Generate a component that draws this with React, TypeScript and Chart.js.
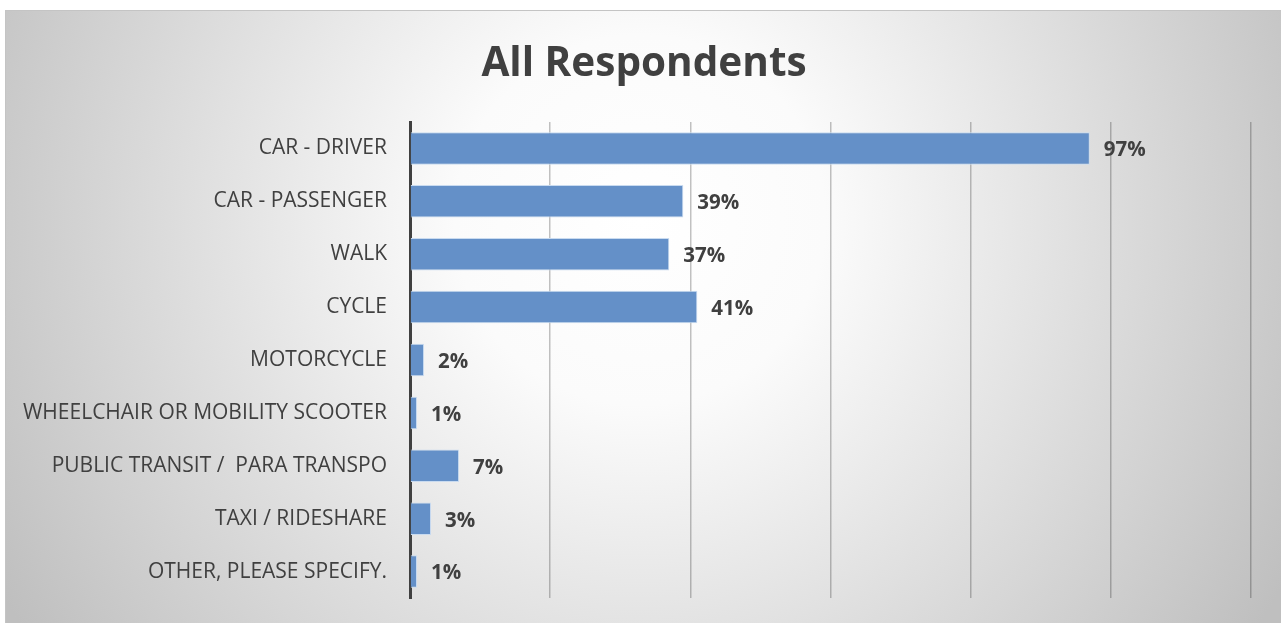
import React, { useEffect, useRef } from 'react';
import { Chart, registerables } from 'chart.js';

Chart.register(...registerables);

const categories = [
  'CAR - DRIVER',
  'CAR - PASSENGER',
  'WALK',
  'CYCLE',
  'MOTORCYCLE',
  'WHEELCHAIR OR MOBILITY SCOOTER',
  'PUBLIC TRANSIT /  PARA TRANSPO',
  'TAXI / RIDESHARE',
  'OTHER, PLEASE SPECIFY.',
];
const values = [97, 39, 37, 41, 2, 1, 7, 3, 1];
const xMin = 0;
const xMax = 120;
const xStep = 20;
const titleText = 'All Respondents';

const FONT = "'Open Sans', sans-serif";
const TEXT = '#404040';

const backgroundPlugin = {
  id: 'bgPanel',
  beforeDraw(chart: any) {
    const { ctx, width, height } = chart;
    ctx.save();
    ctx.fillStyle = '#ffffff';
    ctx.fillRect(0, 0, width, height);
    const g = ctx.createRadialGradient(640, 220, 0, 640, 220, 740);
    g.addColorStop(0, '#ffffff');
    g.addColorStop(0.25, '#fbfbfb');
    g.addColorStop(0.55, '#e3e3e3');
    g.addColorStop(1, '#bfbfbf');
    ctx.fillStyle = g;
    ctx.fillRect(5, 10, width - 5, height - 10);
    ctx.strokeStyle = '#c4c4c4';
    ctx.lineWidth = 1;
    ctx.beginPath();
    ctx.moveTo(5, 10.5);
    ctx.lineTo(width, 10.5);
    ctx.moveTo(5.5, 10);
    ctx.lineTo(5.5, height);
    ctx.stroke();
    ctx.restore();
  },
};

const titlePlugin = {
  id: 'chartTitle',
  afterDraw(chart: any) {
    const { ctx } = chart;
    ctx.save();
    ctx.font = `bold 40.5px ${FONT}`;
    ctx.fillStyle = TEXT;
    ctx.textAlign = 'center';
    ctx.textBaseline = 'middle';
    ctx.fillText(titleText, 644, 64);
    ctx.restore();
  },
};

const dataLabelPlugin = {
  id: 'valueLabels',
  afterDatasetsDraw(chart: any) {
    const { ctx } = chart;
    const meta = chart.getDatasetMeta(0);
    ctx.save();
    ctx.font = `bold 20.5px ${FONT}`;
    ctx.fillStyle = TEXT;
    ctx.textAlign = 'left';
    ctx.textBaseline = 'middle';
    meta.data.forEach((bar: any, i: number) => {
      ctx.fillText(values[i] + '%', bar.x + 14, bar.y + 2);
    });
    ctx.restore();
  },
};

export default function App() {
  const ref = useRef<HTMLCanvasElement | null>(null);
  useEffect(() => {
    if (!ref.current) return;
    const chart = new Chart(ref.current, {
      type: 'bar',
      data: {
        labels: categories,
        datasets: [
          {
            data: values,
            backgroundColor: '#6490c8',
            borderColor: '#c9dbf0',
            borderWidth: 1,
            barPercentage: 0.615,
            categoryPercentage: 1,
          },
        ],
      },
      options: {
        indexAxis: 'y',
        animation: false,
        responsive: false,
        maintainAspectRatio: false,
        layout: { padding: { top: 122, right: 30, bottom: 25, left: 0 } },
        plugins: {
          legend: { display: false },
          tooltip: { enabled: false },
          title: { display: false },
        },
        scales: {
          x: {
            min: xMin,
            max: xMax,
            ticks: { display: false, stepSize: xStep },
            grid: {
              display: true,
              drawTicks: false,
              color: 'rgba(0,0,0,0.24)',
              lineWidth: 1.5,
            },
            border: { display: false },
            afterFit(scale: any) {
              scale.height = 0;
              scale.paddingLeft = 0;
              scale.paddingRight = 0;
            },
          },
          y: {
            ticks: {
              color: TEXT,
              font: { family: FONT, size: 21 },
              padding: 23,
            },
            grid: { display: false, drawTicks: false },
            border: { display: true, color: '#404040', width: 3 },
            afterFit(scale: any) {
              scale.width = 410;
              scale.paddingTop = 0;
              scale.paddingBottom = 0;
            },
          },
        },
      },
      plugins: [backgroundPlugin, dataLabelPlugin, titlePlugin],
    });
    return () => chart.destroy();
  }, []);
  return (
    <div style={{ position: 'absolute', left: 0, top: 0, width: 1281, height: 623 }}>
      <canvas ref={ref} width={1281} height={623} style={{ display: 'block' }} />
    </div>
  );
}
